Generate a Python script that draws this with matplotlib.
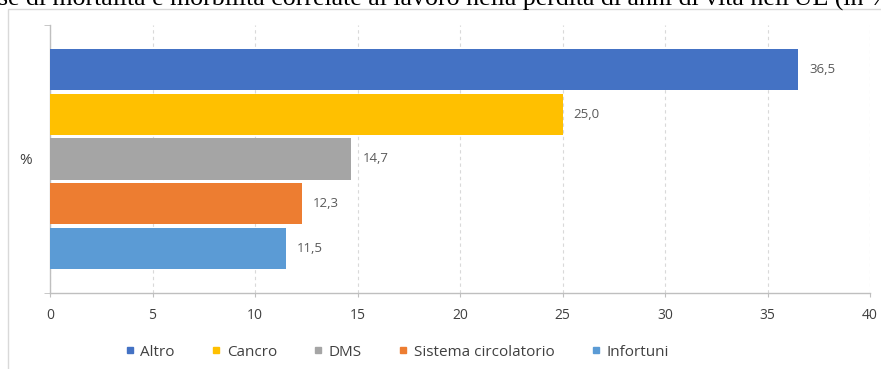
import matplotlib
matplotlib.use("Agg")
import matplotlib.pyplot as plt
from matplotlib import font_manager
from matplotlib.lines import Line2D
from matplotlib.patches import Rectangle

# dati (percentuale di anni di vita persi, UE)
categorie = ["Altro", "Cancro", "DMS", "Sistema circolatorio", "Infortuni"]
valori = [36.5, 25.0, 14.7, 12.3, 11.5]
etichette = ["36,5", "25,0", "14,7", "12,3", "11,5"]
colori = ["#4472C4", "#FFC000", "#A5A5A5", "#ED7D31", "#5B9BD5"]
xticks = [0, 5, 10, 15, 20, 25, 30, 35, 40]
titolo = "se di mortalità e morbilità correlate al lavoro nella perdita di anni di vita nell'UE (in %)"

installed = {f.name for f in font_manager.fontManager.ttflist}
sans = "Open Sans" if "Open Sans" in installed else "DejaVu Sans"
serif = "Liberation Serif" if "Liberation Serif" in installed else "DejaVu Serif"
plt.rcParams['font.family'] = [sans, 'DejaVu Sans']

W, H = 881, 369
fig = plt.figure(figsize=(W / 100, H / 100), dpi=100)
fig.patch.set_facecolor("white")

# cornice del grafico (tagliata a destra e in basso)
fig.patches.append(Rectangle((8 / W, -0.2), 1.2, 1.2 - 9 / H, transform=fig.transFigure,
                             fill=False, edgecolor="#D9D9D9", lw=1.0))

# titolo della figura, tagliato in alto come nell'originale
fig.text(-2 / W, 1 - 5.5 / H, titolo, family=serif, fontsize=18.6, color="black",
         ha="left", va="baseline")

ax = fig.add_axes([50 / W, 1 - 293 / H, 820 / W, 268 / H])
pos = list(range(len(categorie)))
ax.barh(pos, valori, height=0.93, color=colori, zorder=3)
ax.set_xlim(0, 40)
ax.set_ylim(5.0, -1.0)

for p, v, t in zip(pos, valori, etichette):
    ax.annotate(t, xy=(v, p), xytext=(8, 0), textcoords="offset points",
                va="center", ha="left", fontsize=9.5, color="#595959")

ax.set_xticks(xticks)
ax.set_xticklabels([str(x) for x in xticks])
ax.tick_params(axis="x", length=3, direction="out", color="#BFBFBF",
               labelcolor="#404040", labelsize=10, pad=8)
ax.set_yticks([2])
ax.set_yticklabels(["%"])
ax.tick_params(axis="y", length=0, pad=13, labelsize=11, labelcolor="#404040")
ax.set_yticks([-1, 5], minor=True)
ax.tick_params(axis="y", which="minor", length=4, color="#BFBFBF")

ax.xaxis.grid(True, linestyle=(0, (3, 3)), color="#D9D9D9", lw=0.8, zorder=0)
ax.set_axisbelow(True)
for s in ["top", "right"]:
    ax.spines[s].set_visible(False)
for s in ["left", "bottom"]:
    ax.spines[s].set_color("#BFBFBF")
    ax.spines[s].set_linewidth(1.0)

handles = [Line2D([], [], marker="s", linestyle="none", markersize=4.5,
                  markerfacecolor=c, markeredgecolor=c) for c in colori]
fig.legend(handles, categorie, loc="center", bbox_to_anchor=(397 / W, 1 - 352 / H),
           ncol=5, frameon=False, handlelength=0.6, handletextpad=0.4,
           columnspacing=2.4, fontsize=11, labelcolor="#404040")

fig.savefig("out.png", dpi=100, facecolor="white")
